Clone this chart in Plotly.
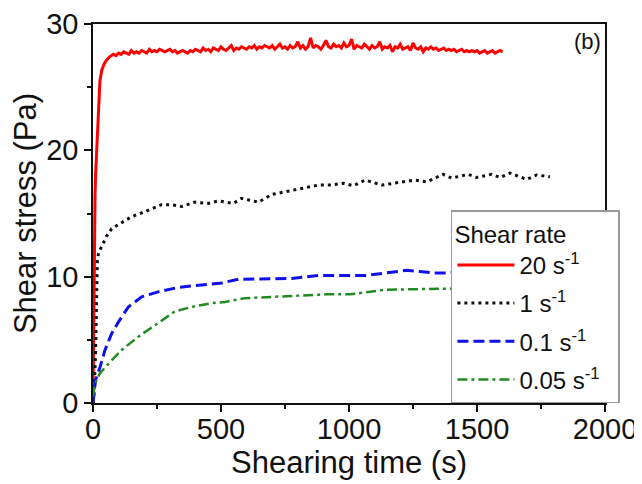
import plotly.graph_objects as go

# ---- data ----
red_t_start = [0, 2, 4, 6, 8, 10, 14, 20, 27, 35, 45, 55, 65, 80]
red_v_start = [0, 6, 11, 14, 16.5, 18, 20, 23.3, 25.5, 26.4, 26.9, 27.2, 27.4, 27.6]
red_t_rest = list(range(90, 1601, 10))
red_v_rest = [
    27.5, 27.7, 27.6, 27.8, 27.7, 27.6, 27.9, 27.7, 27.8, 27.7,
    27.9, 27.8, 27.7, 28.0, 27.8, 27.9, 27.8, 28.0, 27.9, 27.8,
    27.9, 28.0, 27.8, 27.9, 27.7, 27.8, 27.9, 27.8, 27.7, 27.9,
    27.8, 28.0, 27.9, 27.8, 28.1, 27.9, 28.0, 27.8, 28.1, 28.0,
    27.9, 28.2, 28.0, 27.9, 28.1, 28.3, 27.9, 28.1, 28.0, 28.2,
    28.1, 28.0, 28.2, 28.1, 28.3, 28.0, 28.2, 28.1, 28.3, 28.2,
    28.1, 28.3, 28.0, 28.2, 28.4, 28.1, 28.2, 28.0, 28.3, 28.1,
    28.2, 28.6, 28.1, 28.3, 28.0, 28.2, 28.9, 28.1, 28.3, 28.2,
    28.0, 28.3, 28.7, 28.2, 28.1, 28.4, 28.2, 28.3, 28.1, 28.5,
    28.2, 28.3, 28.8, 28.0, 28.3, 28.2, 28.1, 28.4, 28.2, 28.0,
    28.3, 28.1, 28.2, 28.6, 28.0, 28.2, 28.1, 28.3, 27.8, 28.2,
    28.1, 28.4, 28.0, 28.1, 28.2, 27.9, 28.5, 28.1, 28.0, 28.2,
    27.8, 28.1, 28.0, 28.2, 28.0, 28.1, 27.9, 28.0, 28.1, 27.9,
    28.0, 27.9, 28.0, 27.8, 27.9, 28.0, 27.8, 27.9, 27.8, 27.9,
    27.8, 27.9, 27.7, 27.8, 27.9, 27.7, 27.8, 27.9, 27.7, 27.8,
    27.9, 27.8,
]
red_t = red_t_start + red_t_rest
red_v = red_v_start + red_v_rest

black_t = [0, 5, 10, 13, 15, 17, 22, 34, 53, 73, 99, 151, 203, 268, 307, 346, 398, 450,
           490, 548, 580, 646, 698, 750, 815, 880, 932, 978, 1017, 1063, 1128, 1173,
           1258, 1303, 1368, 1401, 1466, 1498, 1557, 1590, 1629, 1694, 1733, 1785]
black_v = [0, 1, 4, 7, 9.5, 11.2, 11.9, 12.4, 13.2, 13.8, 14.1, 14.75, 15.15, 15.7, 15.7,
           15.55, 15.9, 15.8, 16.0, 15.8, 16.2, 15.9, 16.5, 16.7, 17.0, 17.25, 17.25, 17.4,
           17.2, 17.65, 17.25, 17.4, 17.65, 17.5, 18.1, 17.8, 18.1, 17.85, 18.1, 17.85,
           18.2, 17.7, 18.05, 17.9]

blue_t = [0, 4, 10, 18, 27, 47, 73, 99, 138, 190, 255, 333, 424, 503, 568, 672, 776, 880,
          932, 978, 1069, 1147, 1225, 1277, 1329, 1381, 1450, 1550, 1650, 1750]
blue_v = [0, 1.0, 1.8, 2.3, 2.8, 4.2, 5.5, 6.4, 7.6, 8.4, 8.8, 9.15, 9.35, 9.5, 9.8, 9.85,
          9.85, 10.1, 10.1, 10.05, 10.1, 10.3, 10.5, 10.4, 10.3, 10.3, 10.4, 10.4, 10.5, 10.4]

green_t = [0, 5, 12, 27, 60, 112, 177, 242, 281, 320, 385, 463, 516, 594, 698, 802, 913,
           1004, 1069, 1134, 1238, 1381, 1450, 1550, 1650, 1750]
green_v = [0.5, 1.2, 1.7, 2.35, 3.1, 4.2, 5.25, 6.2, 6.7, 7.25, 7.6, 7.9, 8.0, 8.3, 8.4,
           8.55, 8.6, 8.6, 8.8, 8.95, 9.0, 9.05, 9.1, 9.1, 9.2, 9.2]

names = ["20 s<sup>-1</sup>", "1 s<sup>-1</sup>", "0.1 s<sup>-1</sup>", "0.05 s<sup>-1</sup>\u00a0\u00a0"]
x_ticks = [0, 500, 1000, 1500, 2000]
y_ticks = [0, 10, 20, 30]

FONT = "Liberation Sans, Arial, sans-serif"

fig = go.Figure()
fig.add_trace(go.Scatter(x=red_t, y=red_v, mode="lines", name=names[0], legendgroup="a",
                         line=dict(color="#ff0000", width=3)))
fig.add_trace(go.Scatter(x=black_t, y=black_v, mode="lines", name=names[1], legendgroup="b",
                         line=dict(color="#111111", width=3, dash="3px,4px")))
fig.add_trace(go.Scatter(x=blue_t, y=blue_v, mode="lines", name=names[2], legendgroup="c",
                         line=dict(color="#1010ee", width=3, dash="11px,5px")))
fig.add_trace(go.Scatter(x=green_t, y=green_v, mode="lines", name=names[3], legendgroup="d",
                         line=dict(color="#228b22", width=2.5, dash="10px,4px,3px,4px")))

fig.update_layout(
    width=642, height=484,
    margin=dict(l=85, r=45, t=16, b=89),
    paper_bgcolor="white", plot_bgcolor="white",
    font=dict(family=FONT, color="#111111"),
    showlegend=True,
    legend=dict(
        title=dict(text="Shear rate", font=dict(size=24)),
        font=dict(size=24),
        x=0.699, y=0.509, xanchor="left", yanchor="top",
        bgcolor="white", bordercolor="#999999", borderwidth=1.5,
        itemwidth=57, tracegroupgap=4,
    ),
    xaxis=dict(
        range=[0, 2000], tickvals=x_ticks, ticks="outside", ticklen=7, tickwidth=1.5,
        tickcolor="#111111", showline=True, linecolor="#111111", linewidth=1.5,
        mirror=True, showgrid=False, zeroline=False, automargin=False,
        tickfont=dict(size=29), ticklabelstandoff=-8,
        minor=dict(ticks="outside", ticklen=4, dtick=250, tickcolor="#111111", showgrid=False),
        title=dict(text="Shearing time (s)", font=dict(size=31), standoff=0),
    ),
    yaxis=dict(
        range=[0, 30], tickvals=y_ticks, ticks="outside", ticklen=7, tickwidth=1.5,
        tickcolor="#111111", showline=True, linecolor="#111111", linewidth=1.5,
        mirror=True, showgrid=False, zeroline=False, automargin=False,
        tickfont=dict(size=29),
        minor=dict(ticks="outside", ticklen=4, dtick=5, tickcolor="#111111", showgrid=False),
        title=dict(text="Shear stress (Pa)", font=dict(size=31), standoff=13),
    ),
    annotations=[dict(text="(b)", x=0.996, y=0.992, xref="paper", yref="paper",
                      xanchor="right", yanchor="top", showarrow=False,
                      font=dict(size=22, family=FONT))],
)

fig.write_html("out.html")
